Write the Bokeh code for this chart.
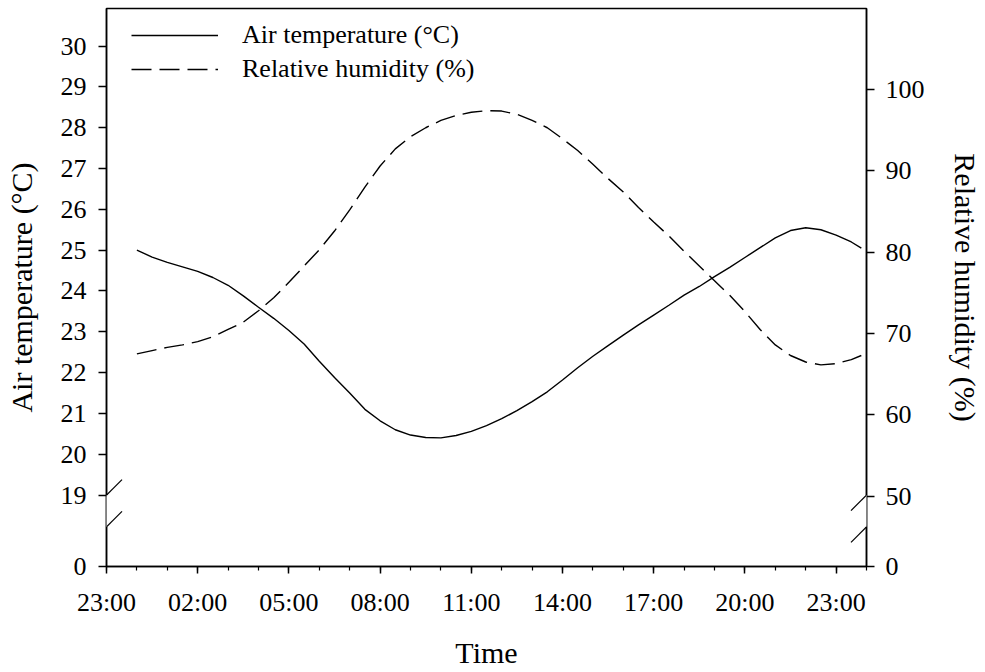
import math
from bokeh.plotting import figure
from bokeh.models import (Range1d, LinearAxis, FixedTicker, Legend, LegendItem,
                          Arrow)
from bokeh.embed import file_html
from bokeh.resources import INLINE

# ---------------- data ----------------
# time in hours after 23:00 of the previous day (1 = 00:00, 24.83 = 23:50)
time_h = [1, 1.5, 2, 2.5, 3, 3.5, 4, 4.5, 5, 5.5, 6, 6.5, 7, 7.5, 8, 8.5,
          9, 9.5, 10, 10.5, 11, 11.5, 12, 12.5, 13, 13.5, 14, 14.5, 15, 15.5,
          16, 16.5, 17, 17.5, 18, 18.5, 19, 19.5, 20, 20.5, 21, 21.5, 22, 22.5,
          23, 23.5, 24, 24.5, 24.83]

air_temp = [25.00, 24.83, 24.70, 24.59, 24.48, 24.33, 24.14, 23.88, 23.60, 23.33,
            23.03, 22.70, 22.28, 21.88, 21.50, 21.10, 20.82, 20.60, 20.47, 20.41,
            20.40, 20.46, 20.56, 20.70, 20.87, 21.07, 21.29, 21.53, 21.82, 22.12,
            22.40, 22.66, 22.92, 23.17, 23.41, 23.65, 23.90, 24.11, 24.35, 24.58,
            24.82, 25.06, 25.30, 25.48, 25.55, 25.50, 25.37, 25.20, 25.05]

rel_hum = [67.5, 67.9, 68.3, 68.6, 69.0, 69.6, 70.5, 71.4, 72.8, 74.4,
           76.3, 78.3, 80.3, 82.6, 85.2, 88.0, 90.6, 92.7, 94.2, 95.3,
           96.2, 96.8, 97.2, 97.4, 97.35, 96.95, 96.2, 95.3, 93.95, 92.5,
           90.8, 89.05, 87.4, 85.5, 83.7, 82.0, 80.1, 78.3, 76.5, 74.7,
           72.7, 70.5, 68.6, 67.3, 66.5, 66.15, 66.3, 66.8, 67.3]

x_tick_pos = [0, 3, 6, 9, 12, 15, 18, 21, 24]
x_tick_labels = ["23:00", "02:00", "05:00", "08:00", "11:00", "14:00",
                 "17:00", "20:00", "23:00"]
x_minor_pos = list(range(0, 26))

temp_ticks = [19, 20, 21, 22, 23, 24, 25, 26, 27, 28, 29, 30]
rh_ticks = [50, 60, 70, 80, 90, 100]

# broken-axis layout: where the "0" tick sits on each scale
TEMP_ZERO_POS = 17.25
RH_ZERO_POS = 41.36
TEMP_TOP = 30.92
RH_TOP = 109.96
BREAK_UPPER = 19.0     # upper slash (temperature scale units)
BREAK_LOWER = 18.22    # lower slash

FONT = "Liberation Serif"
TICK_FS = "26px"
AXIS_FS = "30px"

# ---------------- figure ----------------
p = figure(width=985, height=672, output_backend="svg", toolbar_location=None,
           x_range=Range1d(0, 25), y_range=Range1d(TEMP_ZERO_POS, TEMP_TOP),
           min_border_left=106, min_border_right=119, min_border_top=8,
           min_border_bottom=106)
p.extra_y_ranges = {"rh": Range1d(RH_ZERO_POS, RH_TOP)}
p.xgrid.visible = False
p.ygrid.visible = False
p.background_fill_color = "white"
p.border_fill_color = "white"
p.outline_line_color = "black"
p.outline_line_width = 1.5

def style_axis(ax):
    ax.axis_line_color = "black"
    ax.axis_line_width = 1.5
    ax.major_tick_line_color = "black"
    ax.major_tick_line_width = 1.5
    ax.minor_tick_line_color = "black"
    ax.minor_tick_line_width = 1.2
    ax.major_tick_in = 0
    ax.minor_tick_in = 0
    ax.major_label_text_font = FONT
    ax.major_label_text_font_size = TICK_FS
    ax.major_label_text_color = "black"
    ax.axis_label_text_font = FONT
    ax.axis_label_text_font_size = AXIS_FS
    ax.axis_label_text_font_style = "normal"
    ax.axis_label_text_color = "black"

# x axis
xa = p.xaxis[0]
style_axis(xa)
xa.ticker = FixedTicker(ticks=x_tick_pos, minor_ticks=x_minor_pos)
xa.major_label_overrides = {t: l for t, l in zip(x_tick_pos, x_tick_labels)}
xa.major_tick_out = 7
xa.minor_tick_out = 4
xa.major_label_standoff = 14
xa.axis_label = "Time"
xa.axis_label_standoff = 16

# left axis
ya = p.yaxis[0]
style_axis(ya)
left_ticks = [TEMP_ZERO_POS] + temp_ticks
ya.ticker = FixedTicker(ticks=left_ticks, minor_ticks=[])
ov = {TEMP_ZERO_POS: "0"}
ov.update({t: str(t) for t in temp_ticks})
ya.major_label_overrides = ov
ya.major_tick_out = 8
ya.major_label_standoff = 12
ya.axis_label = "Air temperature (°C)"
ya.axis_label_standoff = 20

# right axis
ra = LinearAxis(y_range_name="rh")
style_axis(ra)
right_ticks = [RH_ZERO_POS] + rh_ticks
ra.ticker = FixedTicker(ticks=right_ticks, minor_ticks=[])
ov2 = {RH_ZERO_POS: "0"}
ov2.update({t: str(t) for t in rh_ticks})
ra.major_label_overrides = ov2
ra.major_tick_out = 8
ra.major_label_standoff = 11
ra.axis_label = "Relative humidity (%)"
ra.axis_label_standoff = 21
p.add_layout(ra, "right")

# ---------------- data lines ----------------
r_t = p.line(time_h, air_temp, line_color="black", line_width=1.4)
r_h = p.line(time_h, rel_hum, line_color="black", line_width=1.4,
             line_dash="20 8", y_range_name="rh")

legend = Legend(items=[LegendItem(label="Air temperature (°C)", renderers=[r_t]),
                       LegendItem(label="Relative humidity (%)", renderers=[r_h])],
                location=(25, 482), glyph_width=87, glyph_height=24,
                label_height=24, spacing=4, padding=8, margin=0,
                label_standoff=24, label_text_font=FONT,
                label_text_font_size="26px", label_text_color="black",
                background_fill_alpha=0, border_line_color=None)
p.add_layout(legend)

# ---------------- axis breaks ----------------
DX = 0.51   # half slash width in hours
DY = 0.38   # half slash height in temperature units
for xe in (0, 25):
    # gap in the axis line between the two slashes
    p.add_layout(Arrow(end=None, x_start=xe, y_start=BREAK_LOWER,
                       x_end=xe, y_end=BREAK_UPPER,
                       line_color="white", line_width=4))
    for yb in (BREAK_UPPER, BREAK_LOWER):
        p.add_layout(Arrow(end=None, x_start=xe - DX, y_start=yb - DY,
                           x_end=xe + DX, y_end=yb + DY,
                           line_color="black", line_width=1.2))

open("out.html", "w").write(file_html(p, INLINE))
